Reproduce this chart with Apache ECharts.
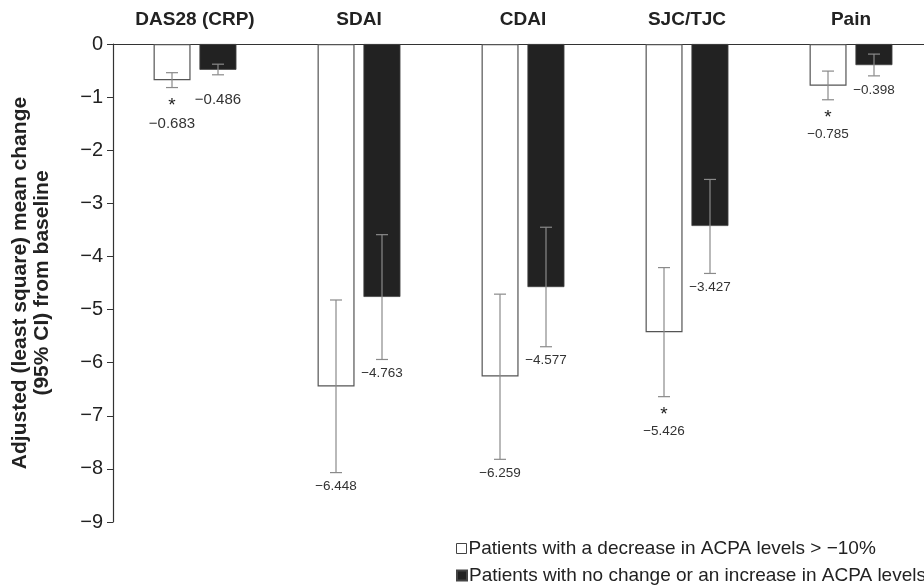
<!DOCTYPE html>
<html>
<head>
<meta charset="utf-8">
<script src="https://cdn.jsdelivr.net/npm/echarts@6/dist/echarts.min.js"></script>
<style>
html,body{margin:0;padding:0;background:#fff;}
#chart{width:924px;height:586px;}
</style>
</head>
<body>
<div id="chart"></div>
<script>
const categories = ['DAS28 (CRP)', 'SDAI', 'CDAI', 'SJC/TJC', 'Pain'];
const seriesNames = ['Patients with a decrease in ACPA levels > \u221210%', 'Patients with no change or an increase in ACPA levels'];
const decreaseValues = [-0.683, -6.448, -6.259, -5.426, -0.785];
const decreaseCILow = [-0.82, -8.07, -7.82, -6.64, -1.05];
const decreaseCIHigh = [-0.54, -4.82, -4.71, -4.21, -0.51];
const decreaseSig = [true, false, false, true, true];
const noChangeValues = [-0.486, -4.763, -4.577, -3.427, -0.398];
const noChangeCILow = [-0.58, -5.94, -5.70, -4.32, -0.60];
const noChangeCIHigh = [-0.38, -3.59, -3.45, -2.55, -0.19];
const noChangeSig = [false, false, false, false, false];
const yTicks = { min: -9, max: 0, interval: 1 };

const minus = s => String(s).replace('-', '\u2212');
const font = 'Liberation Sans, Arial, Helvetica, sans-serif';

function errData(vals, lo, hi, sig) {
  return vals.map((v, i) => [i, lo[i], hi[i], v, sig[i] ? 1 : 0]);
}
function makeRender(offset, firstGap) {
  return function (params, api) {
    const i = api.value(0);
    const lo = api.coord([i, api.value(1)]);
    const hi = api.coord([i, api.value(2)]);
    const x = lo[0] + offset;
    const cap = 6;
    const style = { stroke: '#8a8a8a', lineWidth: 1.2 };
    const children = [
      { type: 'line', shape: { x1: x, y1: hi[1], x2: x, y2: lo[1] }, style: style },
      { type: 'line', shape: { x1: x - cap, y1: hi[1], x2: x + cap, y2: hi[1] }, style: style },
      { type: 'line', shape: { x1: x - cap, y1: lo[1], x2: x + cap, y2: lo[1] }, style: style }
    ];
    const sig = api.value(4) === 1;
    const fs = i === 0 ? 15 : 13.5;
    let ty = lo[1] + (i === 0 ? firstGap : 14);
    if (sig) {
      children.push({ type: 'text', style: { text: '*', x: x, y: lo[1] + 18, align: 'center', verticalAlign: 'middle', font: '19px ' + font, fill: '#222' } });
      ty = lo[1] + (i === 0 ? 36 : 35);
    }
    children.push({ type: 'text', style: { text: minus(api.value(3).toFixed(3)), x: x, y: ty, align: 'center', verticalAlign: 'middle', font: fs + 'px ' + font, fill: '#333' } });
    return { type: 'group', children: children };
  };
}

const legendText = { fontSize: 19, color: '#222', fontFamily: font, padding: [0, 0, 0, -3] };
const chart = echarts.init(document.getElementById('chart'), null, { renderer: 'canvas' });
chart.setOption({
  animation: false,
  backgroundColor: '#fff',
  textStyle: { fontFamily: font },
  grid: { left: 113, top: 44, width: 820, bottom: 64, containLabel: false, outerBoundsMode: 'none' },
  legend: [
    {
      orient: 'horizontal', left: 451, top: 534,
      itemWidth: 10, itemHeight: 10, textStyle: legendText,
      data: [{ name: seriesNames[0], icon: 'rect', itemStyle: { color: '#fff', borderColor: '#444', borderWidth: 1 } }]
    },
    {
      orient: 'horizontal', left: 451, top: 561,
      itemWidth: 10, itemHeight: 10, textStyle: legendText,
      data: [{ name: seriesNames[1], icon: 'rect', itemStyle: { color: '#222' } }]
    }
  ],
  xAxis: {
    type: 'category', data: categories, position: 'top',
    axisLine: { lineStyle: { color: '#333', width: 1.2 } },
    axisTick: { show: false },
    axisLabel: { margin: 15, fontSize: 19, fontWeight: 'bold', color: '#222', fontFamily: font },
    splitLine: { show: false }
  },
  yAxis: {
    type: 'value', min: yTicks.min, max: yTicks.max, interval: yTicks.interval,
    name: 'Adjusted (least square) mean change\n(95% CI) from baseline',
    nameLocation: 'middle', nameRotate: 90, nameGap: 60,
    nameTextStyle: { fontSize: 21, fontWeight: 'bold', color: '#222', lineHeight: 22, fontFamily: font },
    axisLine: { show: true, lineStyle: { color: '#333', width: 1.2 } },
    axisTick: { show: true, length: 6, lineStyle: { color: '#333' } },
    axisLabel: { margin: 10, fontSize: 20, color: '#222', fontFamily: font, formatter: v => minus(v) },
    splitLine: { show: false }
  },
  series: [
    {
      name: seriesNames[0], type: 'bar', data: decreaseValues, barWidth: 37, barGap: '24%',
      itemStyle: { color: '#fff', borderColor: '#555', borderWidth: 1.2 }
    },
    {
      name: seriesNames[1], type: 'bar', data: noChangeValues, barWidth: 37, barGap: '24%',
      itemStyle: { color: '#222', borderColor: '#444', borderWidth: 0.8 }
    },
    {
      type: 'custom', name: 'errA', renderItem: makeRender(-23, 14), z: 5,
      data: errData(decreaseValues, decreaseCILow, decreaseCIHigh, decreaseSig),
      encode: { x: 0, y: [1, 2] }
    },
    {
      type: 'custom', name: 'errB', renderItem: makeRender(23, 25), z: 5,
      data: errData(noChangeValues, noChangeCILow, noChangeCIHigh, noChangeSig),
      encode: { x: 0, y: [1, 2] }
    }
  ]
});
</script>
</body>
</html>
